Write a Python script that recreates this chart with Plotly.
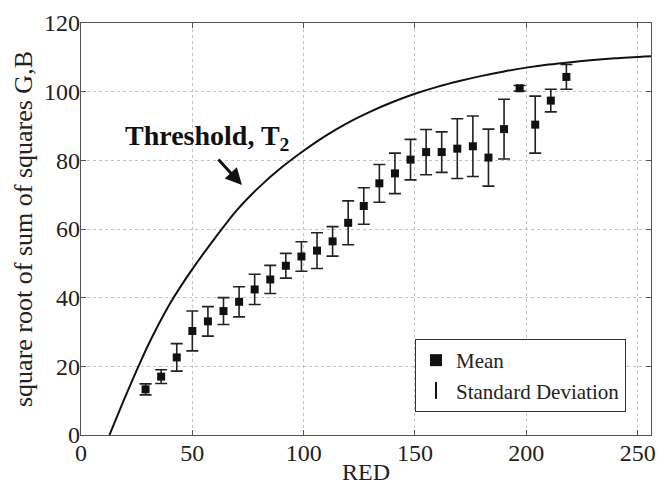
import plotly.graph_objects as go

# ---- data ----
red = [29, 36, 43, 50, 57, 64, 71, 78, 85, 92, 99, 106, 113, 120,
       127, 134, 141, 148, 155, 162, 169, 176, 183, 190, 197, 204, 211, 218]
mean_gb = [13.3, 17.0, 22.6, 30.3, 33.1, 36.1, 38.8, 42.4, 45.3, 49.3, 52.0, 53.7, 56.4, 61.8,
           66.7, 73.3, 76.2, 80.2, 82.4, 82.4, 83.4, 84.1, 80.8, 89.1, 101.0, 90.4, 97.4, 104.3]
std_gb = [1.6, 2.0, 4.0, 5.8, 4.3, 3.9, 4.4, 4.4, 4.1, 3.6, 4.3, 5.2, 4.3, 6.4,
          5.3, 5.5, 5.9, 5.9, 6.6, 5.9, 8.7, 8.8, 8.3, 8.7, 0.8, 8.3, 3.3, 3.6]

thr_x = [12.8, 20, 26, 32, 40, 50, 60, 70, 80, 90, 100, 110, 120, 130,
         140, 150, 160, 170, 180, 190, 200, 210, 220, 230, 240, 256]
thr_y = [0, 11.3, 20.3, 28.6, 38.3, 48.3, 57.2, 65.5, 72.2, 77.9, 82.8, 87.2, 91.0, 94.2,
         97.0, 99.4, 101.4, 103.1, 104.6, 105.9, 107.0, 107.9, 108.6, 109.2, 109.7, 110.3]

x_ticks = [0, 50, 100, 150, 200, 250]
y_ticks = [0, 20, 40, 60, 80, 100, 120]

FONT = "Liberation Serif"
INK = "#111111"
AXC = "#555555"
TXT = "#222222"

fig = go.Figure()

# threshold curve
fig.add_trace(go.Scatter(
    x=thr_x, y=thr_y, mode="lines", line=dict(color=INK, width=2, shape="spline", smoothing=0.8),
    showlegend=False, hoverinfo="skip"))

# standard deviation (error bars); legend shows an I-like symbol
fig.add_trace(go.Scatter(
    x=red, y=mean_gb, mode="markers", name="Standard Deviation",
    marker=dict(symbol="line-ns-open", size=1, color=INK, line=dict(color=INK, width=2)),
    error_y=dict(type="data", array=std_gb, visible=True, color="#222222", thickness=1.6, width=6),
    legendrank=2))

# mean markers
fig.add_trace(go.Scatter(
    x=red, y=mean_gb, mode="markers", name="Mean",
    marker=dict(symbol="square", size=8, color=INK),
    legendrank=1))

fig.add_annotation(x=56.7, y=86.7, xref="x", yref="y", text="<b>Threshold, T<sub>2</sub></b>",
                   showarrow=False, font=dict(family=FONT, size=28, color=INK))
fig.add_annotation(x=72.3, y=72.8, xref="x", yref="y", text="", showarrow=True,
                   ax=-25, ay=-27, arrowhead=2, arrowsize=1.1, arrowwidth=3, arrowcolor=INK)

# axis titles
fig.add_annotation(x=0.5, y=0, xref="paper", yref="paper", yshift=-37, xanchor="center",
                   yanchor="middle", text="RED", showarrow=False,
                   font=dict(family=FONT, size=24, color=TXT))
fig.add_annotation(x=0, y=0.5, xref="paper", yref="paper", xshift=-58, xanchor="center",
                   yanchor="middle", textangle=-90, text="square root of sum of squares G,B",
                   showarrow=False, font=dict(family=FONT, size=26, color=TXT))

axis_common = dict(
    showline=True, linecolor=AXC, linewidth=1.2, mirror="ticks",
    ticks="inside", ticklen=5, tickcolor=AXC,
    showgrid=True, gridcolor="#c4c4c4", griddash="dot", gridwidth=1,
    zeroline=False, tickfont=dict(family=FONT, size=24, color=TXT),
    automargin=False,
)

fig.update_xaxes(range=[0, 256], tickvals=x_ticks, ticklabelstandoff=-4, **axis_common)
fig.update_yaxes(range=[0, 120], tickvals=y_ticks, ticklabelstandoff=-5, **axis_common)

fig.update_layout(
    width=657, height=477,
    margin=dict(l=73, r=14, t=15, b=50, autoexpand=False),
    paper_bgcolor="white", plot_bgcolor="white",
    font=dict(family=FONT, color=TXT),
    legend=dict(x=0.586, y=0.233, xanchor="left", yanchor="top",
                bgcolor="white", bordercolor="#333333", borderwidth=1,
                font=dict(family=FONT, size=21, color=TXT),
                itemsizing="constant", tracegroupgap=2, entrywidth=198),
)

fig.write_html("out.html")
